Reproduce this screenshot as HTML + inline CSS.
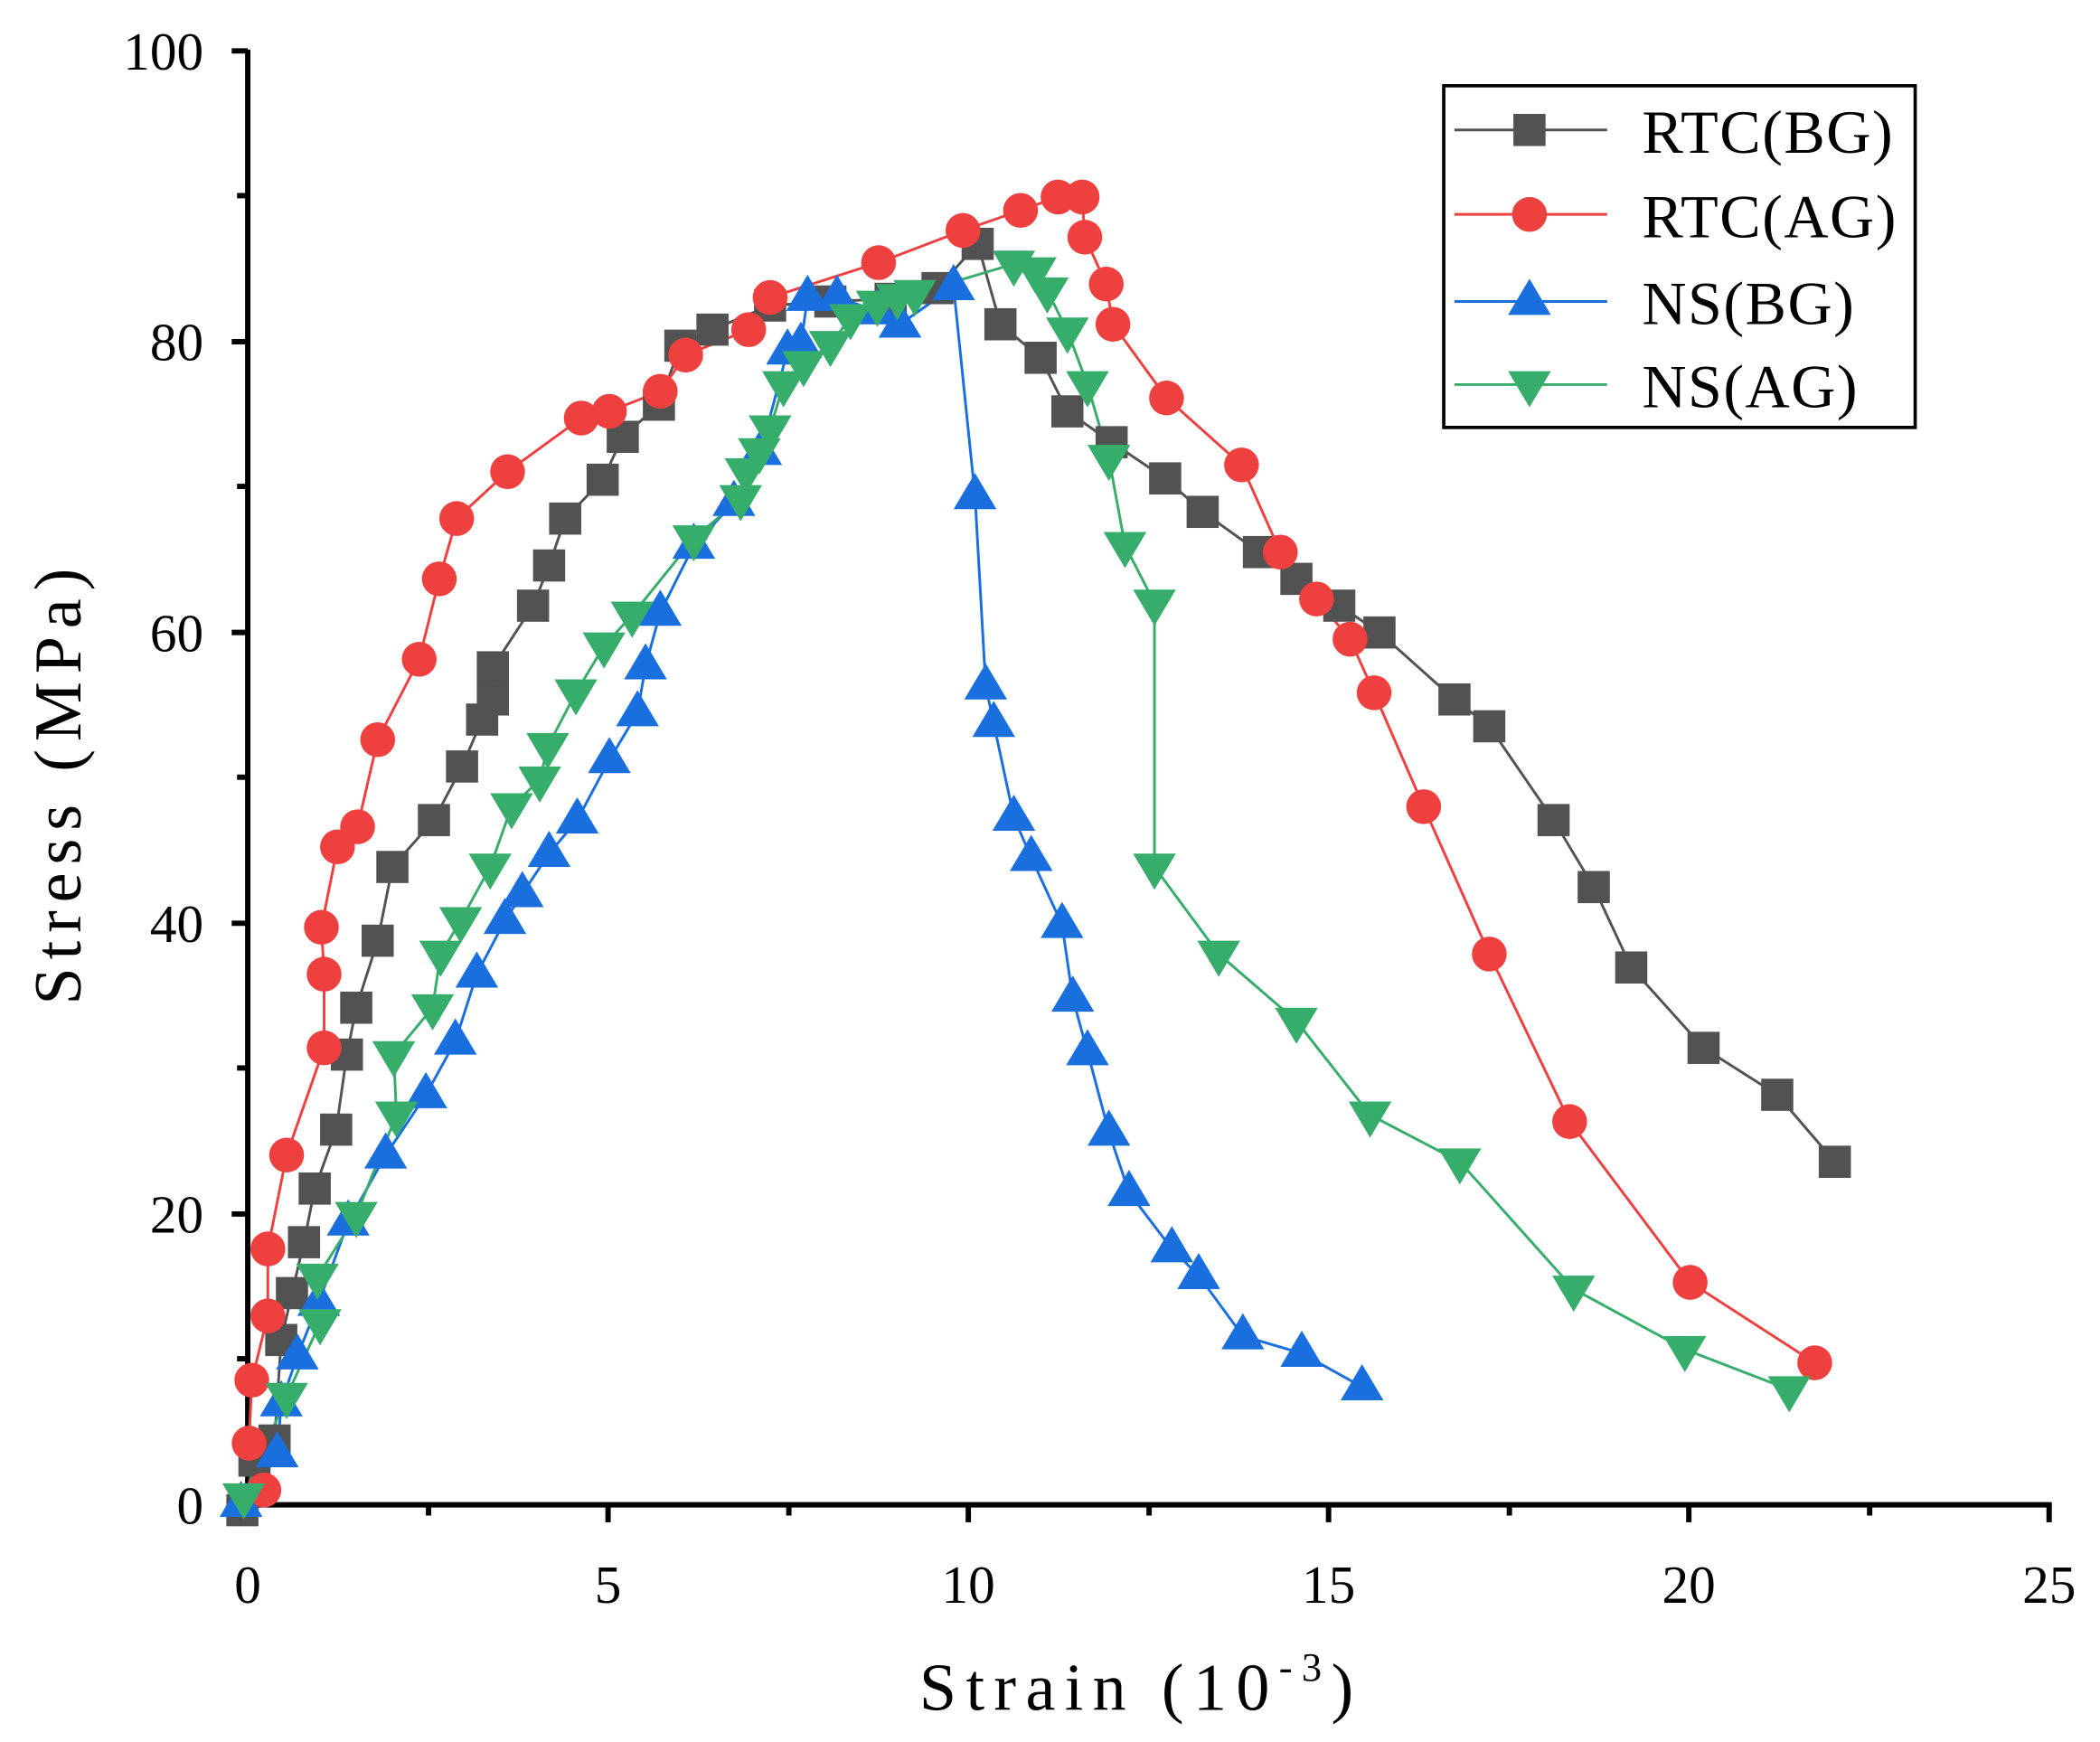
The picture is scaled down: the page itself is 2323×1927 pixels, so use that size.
<!DOCTYPE html>
<html><head><meta charset="utf-8"><style>html,body{margin:0;padding:0;background:#fff}svg{display:block}</style></head>
<body>
<svg width="2323" height="1927" viewBox="0 0 1568 1300" preserveAspectRatio="none" xmlns="http://www.w3.org/2000/svg">
<defs>
<rect id="sq" x="-12" y="-12" width="24" height="24" fill="#525252"/>
<circle id="ci" r="13" fill="#ef4040"/>
<polygon id="tu" points="0,-17 16,10 -16,10" fill="#1a6fdf"/>
<polygon id="td" points="0,17 16,-10 -16,-10" fill="#37ad6b"/>
</defs>
<g font-family="Liberation Serif, serif" fill="#000">
<line x1="185" y1="37" x2="185" y2="1125" stroke="#000" stroke-width="4"/>
<line x1="183" y1="1123" x2="1532" y2="1123" stroke="#000" stroke-width="4"/>
<g stroke="#000" stroke-width="4">
<line x1="173" y1="1123" x2="185" y2="1123"/><line x1="173" y1="906" x2="185" y2="906"/><line x1="173" y1="689" x2="185" y2="689"/><line x1="173" y1="472" x2="185" y2="472"/><line x1="173" y1="255" x2="185" y2="255"/><line x1="173" y1="38" x2="185" y2="38"/>
<line x1="177" y1="1014" x2="185" y2="1014"/><line x1="177" y1="797" x2="185" y2="797"/><line x1="177" y1="580" x2="185" y2="580"/><line x1="177" y1="363" x2="185" y2="363"/><line x1="177" y1="146" x2="185" y2="146"/>
<line x1="185" y1="1123" x2="185" y2="1136"/><line x1="454" y1="1123" x2="454" y2="1136"/><line x1="723" y1="1123" x2="723" y2="1136"/><line x1="992" y1="1123" x2="992" y2="1136"/><line x1="1261" y1="1123" x2="1261" y2="1136"/><line x1="1530" y1="1123" x2="1530" y2="1136"/>
<line x1="320" y1="1123" x2="320" y2="1131"/><line x1="589" y1="1123" x2="589" y2="1131"/><line x1="858" y1="1123" x2="858" y2="1131"/><line x1="1127" y1="1123" x2="1127" y2="1131"/><line x1="1396" y1="1123" x2="1396" y2="1131"/>
</g>
<g font-size="40" text-anchor="end">
<text x="152" y="1137">0</text><text x="152" y="920">20</text><text x="152" y="703">40</text><text x="152" y="486">60</text><text x="152" y="269">80</text><text x="152" y="52">100</text>
</g>
<g font-size="40" text-anchor="middle">
<text x="185" y="1196">0</text><text x="454" y="1196">5</text><text x="723" y="1196">10</text><text x="992" y="1196">15</text><text x="1261" y="1196">20</text><text x="1530" y="1196">25</text>
</g>
<text x="852" y="1276" font-size="50" text-anchor="middle" letter-spacing="7">Strain (10<tspan font-size="30" dy="-22">-3</tspan><tspan dy="22">)</tspan></text>
<text transform="translate(60,584) rotate(-90)" font-size="50" text-anchor="middle" letter-spacing="6">Stress (MPa)</text>
</g>
<g fill="none" stroke-width="2">
<polyline stroke="#525252" points="181,1127 190,1090 205,1075 210,1000 218,965 227,927 235,887 251,843 259,787 266,752 282,702 293,647 324,612 345,572 360,537 368,522 368,498 398,452 410,422 422,387 450,358 465,326 492,302 508,258 532,246 575,228 620,225 665,223 700,215 730,182 747,242 777,267 797,307 830,330 870,357 898,382 940,412 968,432 1000,452 1030,472 1086,522 1112,542 1160,612 1190,662 1218,722 1272,782 1327,817 1370,867"/>
<polyline stroke="#ef4040" points="197,1112 186,1077 188,1030 200,982 200,932 214,862 242,782 242,727 240,692 252,632 267,617 282,552 313,492 328,432 341,387 379,352 434,312 455,307 493,292 512,265 559,246 575,222 656,196 719,172 762,157 790,147 808,147 810,177 826,212 831,242 871,297 927,347 956,412 983,447 1008,477 1026,517 1063,602 1112,712 1172,837 1262,957 1355,1017"/>
<polyline stroke="#1a6fdf" points="180,1122 207,1085 210,1047 222,1012 238,972 260,912 288,862 318,817 340,777 356,727 377,687 390,667 410,637 431,612 455,567 476,532 482,497 493,457 518,407 548,375 568,337 588,262 598,257 603,222 625,222 655,232 672,242 712,214 728,370 736,512 742,540 757,610 770,640 793,690 801,745 812,785 828,845 843,890 875,932 895,952 928,997 972,1010 1017,1035"/>
<polyline stroke="#37ad6b" points="182,1117 214,1042 239,987 237,953 266,907 296,832 294,787 323,752 329,712 344,687 366,647 382,602 403,582 409,557 430,517 451,482 472,459 518,402 553,372 557,352 567,337 575,320 585,287 600,272 620,257 635,237 655,227 670,222 683,219 757,197 773,202 782,217 797,247 812,287 828,342 840,407 862,450 862,647 910,712 968,762 1023,832 1090,867 1175,962 1258,1007 1336,1037"/>
</g>
<g>
<use href="#sq" x="181" y="1127"/><use href="#sq" x="190" y="1090"/><use href="#sq" x="205" y="1075"/><use href="#sq" x="210" y="1000"/><use href="#sq" x="218" y="965"/><use href="#sq" x="227" y="927"/><use href="#sq" x="235" y="887"/><use href="#sq" x="251" y="843"/><use href="#sq" x="259" y="787"/><use href="#sq" x="266" y="752"/><use href="#sq" x="282" y="702"/><use href="#sq" x="293" y="647"/><use href="#sq" x="324" y="612"/><use href="#sq" x="345" y="572"/><use href="#sq" x="360" y="537"/><use href="#sq" x="368" y="522"/><use href="#sq" x="368" y="498"/><use href="#sq" x="398" y="452"/><use href="#sq" x="410" y="422"/><use href="#sq" x="422" y="387"/><use href="#sq" x="450" y="358"/><use href="#sq" x="465" y="326"/><use href="#sq" x="492" y="302"/><use href="#sq" x="508" y="258"/><use href="#sq" x="532" y="246"/><use href="#sq" x="575" y="228"/><use href="#sq" x="620" y="225"/><use href="#sq" x="665" y="223"/><use href="#sq" x="700" y="215"/><use href="#sq" x="730" y="182"/><use href="#sq" x="747" y="242"/><use href="#sq" x="777" y="267"/><use href="#sq" x="797" y="307"/><use href="#sq" x="830" y="330"/><use href="#sq" x="870" y="357"/><use href="#sq" x="898" y="382"/><use href="#sq" x="940" y="412"/><use href="#sq" x="968" y="432"/><use href="#sq" x="1000" y="452"/><use href="#sq" x="1030" y="472"/><use href="#sq" x="1086" y="522"/><use href="#sq" x="1112" y="542"/><use href="#sq" x="1160" y="612"/><use href="#sq" x="1190" y="662"/><use href="#sq" x="1218" y="722"/><use href="#sq" x="1272" y="782"/><use href="#sq" x="1327" y="817"/><use href="#sq" x="1370" y="867"/>
</g>
<g>
<use href="#ci" x="197" y="1112"/><use href="#ci" x="186" y="1077"/><use href="#ci" x="188" y="1030"/><use href="#ci" x="200" y="982"/><use href="#ci" x="200" y="932"/><use href="#ci" x="214" y="862"/><use href="#ci" x="242" y="782"/><use href="#ci" x="242" y="727"/><use href="#ci" x="240" y="692"/><use href="#ci" x="252" y="632"/><use href="#ci" x="267" y="617"/><use href="#ci" x="282" y="552"/><use href="#ci" x="313" y="492"/><use href="#ci" x="328" y="432"/><use href="#ci" x="341" y="387"/><use href="#ci" x="379" y="352"/><use href="#ci" x="434" y="312"/><use href="#ci" x="455" y="307"/><use href="#ci" x="493" y="292"/><use href="#ci" x="512" y="265"/><use href="#ci" x="559" y="246"/><use href="#ci" x="575" y="222"/><use href="#ci" x="656" y="196"/><use href="#ci" x="719" y="172"/><use href="#ci" x="762" y="157"/><use href="#ci" x="790" y="147"/><use href="#ci" x="808" y="147"/><use href="#ci" x="810" y="177"/><use href="#ci" x="826" y="212"/><use href="#ci" x="831" y="242"/><use href="#ci" x="871" y="297"/><use href="#ci" x="927" y="347"/><use href="#ci" x="956" y="412"/><use href="#ci" x="983" y="447"/><use href="#ci" x="1008" y="477"/><use href="#ci" x="1026" y="517"/><use href="#ci" x="1063" y="602"/><use href="#ci" x="1112" y="712"/><use href="#ci" x="1172" y="837"/><use href="#ci" x="1262" y="957"/><use href="#ci" x="1355" y="1017"/>
</g>
<g>
<use href="#tu" x="180" y="1122"/><use href="#tu" x="207" y="1085"/><use href="#tu" x="210" y="1047"/><use href="#tu" x="222" y="1012"/><use href="#tu" x="238" y="972"/><use href="#tu" x="260" y="912"/><use href="#tu" x="288" y="862"/><use href="#tu" x="318" y="817"/><use href="#tu" x="340" y="777"/><use href="#tu" x="356" y="727"/><use href="#tu" x="377" y="687"/><use href="#tu" x="390" y="667"/><use href="#tu" x="410" y="637"/><use href="#tu" x="431" y="612"/><use href="#tu" x="455" y="567"/><use href="#tu" x="476" y="532"/><use href="#tu" x="482" y="497"/><use href="#tu" x="493" y="457"/><use href="#tu" x="518" y="407"/><use href="#tu" x="548" y="375"/><use href="#tu" x="568" y="337"/><use href="#tu" x="588" y="262"/><use href="#tu" x="598" y="257"/><use href="#tu" x="603" y="222"/><use href="#tu" x="625" y="222"/><use href="#tu" x="655" y="232"/><use href="#tu" x="672" y="242"/><use href="#tu" x="712" y="214"/><use href="#tu" x="728" y="370"/><use href="#tu" x="736" y="512"/><use href="#tu" x="742" y="540"/><use href="#tu" x="757" y="610"/><use href="#tu" x="770" y="640"/><use href="#tu" x="793" y="690"/><use href="#tu" x="801" y="745"/><use href="#tu" x="812" y="785"/><use href="#tu" x="828" y="845"/><use href="#tu" x="843" y="890"/><use href="#tu" x="875" y="932"/><use href="#tu" x="895" y="952"/><use href="#tu" x="928" y="997"/><use href="#tu" x="972" y="1010"/><use href="#tu" x="1017" y="1035"/>
</g>
<g>
<use href="#td" x="182" y="1117"/><use href="#td" x="214" y="1042"/><use href="#td" x="239" y="987"/><use href="#td" x="237" y="953"/><use href="#td" x="266" y="907"/><use href="#td" x="296" y="832"/><use href="#td" x="294" y="787"/><use href="#td" x="323" y="752"/><use href="#td" x="329" y="712"/><use href="#td" x="344" y="687"/><use href="#td" x="366" y="647"/><use href="#td" x="382" y="602"/><use href="#td" x="403" y="582"/><use href="#td" x="409" y="557"/><use href="#td" x="430" y="517"/><use href="#td" x="451" y="482"/><use href="#td" x="472" y="459"/><use href="#td" x="518" y="402"/><use href="#td" x="553" y="372"/><use href="#td" x="557" y="352"/><use href="#td" x="567" y="337"/><use href="#td" x="575" y="320"/><use href="#td" x="585" y="287"/><use href="#td" x="600" y="272"/><use href="#td" x="620" y="257"/><use href="#td" x="635" y="237"/><use href="#td" x="655" y="227"/><use href="#td" x="670" y="222"/><use href="#td" x="683" y="219"/><use href="#td" x="757" y="197"/><use href="#td" x="773" y="202"/><use href="#td" x="782" y="217"/><use href="#td" x="797" y="247"/><use href="#td" x="812" y="287"/><use href="#td" x="828" y="342"/><use href="#td" x="840" y="407"/><use href="#td" x="862" y="450"/><use href="#td" x="862" y="647"/><use href="#td" x="910" y="712"/><use href="#td" x="968" y="762"/><use href="#td" x="1023" y="832"/><use href="#td" x="1090" y="867"/><use href="#td" x="1175" y="962"/><use href="#td" x="1258" y="1007"/><use href="#td" x="1336" y="1037"/>
</g>
<rect x="1078" y="64" width="352" height="255" fill="#fff" stroke="#000" stroke-width="2.5"/>
<g stroke-width="2">
<line x1="1086" y1="97" x2="1200" y2="97" stroke="#525252"/><use href="#sq" x="1142" y="97"/>
<line x1="1086" y1="160" x2="1200" y2="160" stroke="#ef4040"/><use href="#ci" x="1142" y="160"/>
<line x1="1086" y1="225" x2="1200" y2="225" stroke="#1a6fdf"/><use href="#tu" x="1142" y="225"/>
<line x1="1086" y1="287" x2="1200" y2="287" stroke="#37ad6b"/><use href="#td" x="1142" y="287"/>
</g>
<g font-family="Liberation Serif, serif" font-size="46" fill="#000" letter-spacing="1">
<text x="1226" y="114">RTC(BG)</text>
<text x="1226" y="177">RTC(AG)</text>
<text x="1226" y="242">NS(BG)</text>
<text x="1226" y="304">NS(AG)</text>
</g>
</svg>
</body></html>
